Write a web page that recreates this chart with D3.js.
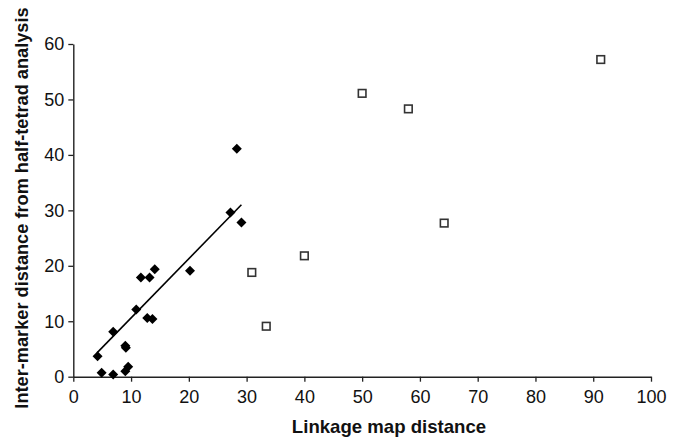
<!DOCTYPE html>
<html>
<head>
<meta charset="utf-8">
<script src="https://cdn.jsdelivr.net/npm/d3@7"></script>
<style>
  html, body { margin: 0; padding: 0; background: #fff; }
  svg { display: block; }
  .tick text { font-family: "Liberation Sans", Arial, sans-serif; font-size: 18px; fill: #111; }
  .title { font-family: "Liberation Sans", Arial, sans-serif; font-size: 18.6px; font-weight: bold; fill: #111; }
</style>
</head>
<body>
<svg id="chart" width="681" height="440"></svg>
<script>
// Markers that fit the trend (filled diamonds)
const fitX = [4.2, 4.9, 6.9, 9.0, 9.5, 9.0, 9.1, 6.9, 10.9, 12.8, 13.7, 11.7, 13.2, 14.1, 20.2, 27.2, 29.1, 28.3];
const fitY = [3.7, 0.7, 0.4, 1.0, 1.8, 5.6, 5.2, 8.1, 12.1, 10.6, 10.4, 17.9, 17.9, 19.4, 19.1, 29.6, 27.8, 41.1];

// Long-distance intervals (open squares)
const farX = [30.9, 33.4, 40.0, 50.0, 58.0, 64.2, 91.3];
const farY = [18.8, 9.1, 21.8, 51.1, 48.3, 27.7, 57.2];

// Trend line endpoints
const trendX = [4.1, 29.1];
const trendY = [4.3, 31.0];

const xTicks = [0, 10, 20, 30, 40, 50, 60, 70, 80, 90, 100];
const yTicks = [0, 10, 20, 30, 40, 50, 60];

const xTitle = "Linkage map distance";
const yTitle = "Inter-marker distance from half-tetrad analysis";

const svg = d3.select("#chart");
const x = d3.scaleLinear().domain([0, 100]).range([73.3, 651]);
const y = d3.scaleLinear().domain([0, 60]).range([376.7, 44]);

const axisColor = "#222";

const gx = svg.append("g")
  .attr("transform", `translate(0,${y(0)})`)
  .call(d3.axisBottom(x).tickValues(xTicks).tickSize(5).tickSizeOuter(0).tickPadding(9));
const gy = svg.append("g")
  .attr("transform", `translate(${x(0)},0)`)
  .call(d3.axisLeft(y).tickValues(yTicks).tickSize(5).tickSizeOuter(0).tickPadding(4));

[gx, gy].forEach(g => {
  g.select(".domain").attr("stroke", axisColor).attr("stroke-width", 1.4);
  g.selectAll(".tick line").attr("stroke", axisColor).attr("stroke-width", 1.3);
});

// Trend line
svg.append("line")
  .attr("x1", x(trendX[0])).attr("y1", y(trendY[0]))
  .attr("x2", x(trendX[1])).attr("y2", y(trendY[1]))
  .attr("stroke", "#000").attr("stroke-width", 1.6);

// Filled diamonds
const r = 5;
const diamond = `M0,${-r}L${r},0L0,${r}L${-r},0Z`;
svg.append("g").selectAll("path")
  .data(fitX.map((v, i) => [v, fitY[i]]))
  .join("path")
  .attr("d", diamond)
  .attr("transform", d => `translate(${x(d[0])},${y(d[1])})`)
  .attr("fill", "#000");

// Open squares
const s = 7.6;
svg.append("g").selectAll("rect")
  .data(farX.map((v, i) => [v, farY[i]]))
  .join("rect")
  .attr("x", d => x(d[0]) - s / 2)
  .attr("y", d => y(d[1]) - s / 2)
  .attr("width", s).attr("height", s)
  .attr("fill", "#fff")
  .attr("stroke", "#333")
  .attr("stroke-width", 1.6);

// Axis titles
svg.append("text")
  .attr("class", "title")
  .attr("x", 389).attr("y", 433)
  .attr("text-anchor", "middle")
  .text(xTitle);

svg.append("text")
  .attr("class", "title")
  .attr("transform", "translate(28,208) rotate(-90)")
  .attr("text-anchor", "middle")
  .style("font-size", "18.2px")
  .text(yTitle);
</script>
</body>
</html>
